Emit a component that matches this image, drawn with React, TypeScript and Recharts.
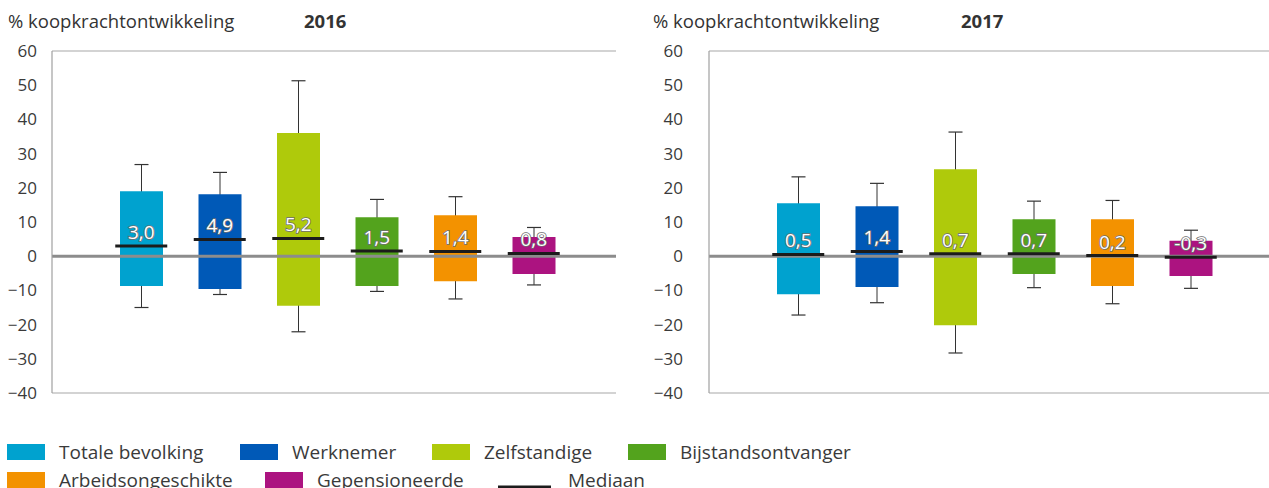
import React from 'react';
import { ComposedChart, Bar, Line, XAxis, YAxis, CartesianGrid, ReferenceLine, Cell } from 'recharts';

const categories = ['Totale bevolking', 'Werknemer', 'Zelfstandige', 'Bijstandsontvanger', 'Arbeidsongeschikte', 'Gepensioneerde'];
const colors = ['#00a2cf', '#0059b7', '#afca0b', '#53a31d', '#f39200', '#ac1380'];

const boxLow2016 = [-8.7, -9.6, -14.5, -8.7, -7.3, -5.2];
const boxHigh2016 = [19.0, 18.1, 36.0, 11.4, 12.0, 5.6];
const whiskerLow2016 = [-15.0, -11.2, -22.1, -10.3, -12.5, -8.4];
const whiskerHigh2016 = [26.8, 24.5, 51.3, 16.6, 17.4, 8.4];
const median2016 = [3.0, 4.9, 5.2, 1.5, 1.4, 0.8];

const boxLow2017 = [-11.1, -9.0, -20.2, -5.2, -8.7, -5.8];
const boxHigh2017 = [15.5, 14.6, 25.4, 10.8, 10.8, 4.5];
const whiskerLow2017 = [-17.2, -13.6, -28.3, -9.2, -13.9, -9.4];
const whiskerHigh2017 = [23.2, 21.3, 36.3, 16.1, 16.3, 7.6];
const median2017 = [0.5, 1.4, 0.7, 0.7, 0.2, -0.3];

const yTicks = [-40, -30, -20, -10, 0, 10, 20, 30, 40, 50, 60];
const yTitle = '% koopkrachtontwikkeling';
const legendItems = [
  { label: 'Totale bevolking', color: colors[0] },
  { label: 'Werknemer', color: colors[1] },
  { label: 'Zelfstandige', color: colors[2] },
  { label: 'Bijstandsontvanger', color: colors[3] },
  { label: 'Arbeidsongeschikte', color: colors[4] },
  { label: 'Gepensioneerde', color: colors[5] },
];
const medianLabel = 'Mediaan';

const FONT = '"Open Sans", sans-serif';

function build(lo: number[], hi: number[], wlo: number[], whi: number[], med: number[]) {
  return categories.map((c, i) => ({
    name: c,
    box: [lo[i], hi[i]],
    whisker: [wlo[i], whi[i]],
    median: med[i],
  }));
}

const data2016 = build(boxLow2016, boxHigh2016, whiskerLow2016, whiskerHigh2016, median2016);
const data2017 = build(boxLow2017, boxHigh2017, whiskerLow2017, whiskerHigh2017, median2017);

const fmt = (v: number) => (v < 0 ? '-' : '') + Math.abs(v).toFixed(1).replace('.', ',');
const tickFmt = (v: number) => (v < 0 ? '\u2212' + Math.abs(v) : String(v));

const WhiskerShape = (props: any) => {
  const { x, y, width, height } = props;
  if (x == null || y == null) return null;
  const top = Math.min(y, y + height);
  const bot = Math.max(y, y + height);
  const cx = x + width / 2;
  return (
    <g>
      <line x1={cx} x2={cx} y1={top} y2={bot} stroke="#333" strokeWidth={1} />
      <line x1={cx - 7} x2={cx + 7} y1={top} y2={top} stroke="#333" strokeWidth={1.2} />
      <line x1={cx - 7} x2={cx + 7} y1={bot} y2={bot} stroke="#333" strokeWidth={1.2} />
    </g>
  );
};

const MedianDot = (props: any) => {
  const { cx, cy, payload, index } = props;
  if (cx == null || cy == null) return <g key={index} />;
  return (
    <g key={index}>
      <line x1={cx - 26} x2={cx + 26} y1={cy} y2={cy} stroke="#1c1c1c" strokeWidth={3} />
      <text
        x={cx}
        y={cy - 7}
        textAnchor="middle"
        fontFamily={FONT}
        fontSize={19}
        fill="#ffffff"
        stroke="#6e6e6e"
        strokeWidth={1.6}
        style={{ paintOrder: 'stroke' }}
      >
        {fmt(payload.median)}
      </text>
    </g>
  );
};

function Panel({ data, yAxisWidth, tickMargin, width }: any) {
  return (
    <ComposedChart
      width={width}
      height={410}
      data={data}
      margin={{ top: 51, right: 24, bottom: 17, left: 0 }}
    >
      <CartesianGrid vertical={false} stroke="#a8a8a8" strokeWidth={1.2} />
      <XAxis xAxisId="a" dataKey="name" hide padding={{ left: 50, right: 43 }} />
      <XAxis xAxisId="b" dataKey="name" hide padding={{ left: 50, right: 43 }} />
      <YAxis
        yAxisId="y"
        domain={[-40, 60]}
        ticks={yTicks}
        width={yAxisWidth}
        tickLine={false}
        tickSize={0}
        tickMargin={tickMargin}
        axisLine={{ stroke: '#a0a0a0', strokeWidth: 1.2 }}
        tick={{ fill: '#3a3a3a', fontSize: 17, fontFamily: FONT }}
        tickFormatter={tickFmt}
        interval={0}
        allowDataOverflow
      />
      <YAxis
        yAxisId="r"
        orientation="right"
        domain={[-40, 60]}
        width={0}
        tick={false}
        tickLine={false}
        axisLine={{ stroke: '#a0a0a0', strokeWidth: 1.2 }}
      />
      <Bar
        xAxisId="b"
        yAxisId="y"
        dataKey="whisker"
        barSize={43}
        shape={WhiskerShape}
        isAnimationActive={false}
        legendType="none"
      />
      <ReferenceLine xAxisId="a" yAxisId="y" y={0} stroke="#8c8c8c" strokeWidth={3} />
      <Bar xAxisId="a" yAxisId="y" dataKey="box" barSize={43} isAnimationActive={false}>
        {data.map((_: any, i: number) => (
          <Cell key={i} fill={colors[i]} />
        ))}
      </Bar>
      <Line
        xAxisId="a"
        yAxisId="y"
        dataKey="median"
        stroke="none"
        dot={MedianDot}
        activeDot={false}
        isAnimationActive={false}
        legendType="none"
      />
    </ComposedChart>
  );
}

export default function App() {
  return (
    <div
      style={{
        position: 'absolute',
        left: 0,
        top: 0,
        width: 1269,
        height: 488,
        overflow: 'hidden',
        background: '#fff',
        fontFamily: FONT,
      }}
    >
      <div style={{ position: 'absolute', left: 0, top: 0 }}>
        <Panel data={data2016} yAxisWidth={52} tickMargin={15} width={640} />
      </div>
      <div style={{ position: 'absolute', left: 640, top: 0 }}>
        <Panel data={data2017} yAxisWidth={69} tickMargin={26} width={657} />
      </div>
      <svg
        width={1269}
        height={488}
        style={{ position: 'absolute', left: 0, top: 0, pointerEvents: 'none' }}
      >
        <text x={8} y={28} fontFamily={FONT} fontSize={18.5} fill="#333">{yTitle}</text>
        <text x={304} y={28} fontFamily={FONT} fontSize={18.5} fontWeight="bold" fill="#333">2016</text>
        <text x={653} y={28} fontFamily={FONT} fontSize={18.5} fill="#333">{yTitle}</text>
        <text x={961} y={28} fontFamily={FONT} fontSize={18.5} fontWeight="bold" fill="#333">2017</text>
        {[
          { i: 0, x: 7, y: 444 },
          { i: 1, x: 240, y: 444 },
          { i: 2, x: 432, y: 444 },
          { i: 3, x: 628, y: 444 },
          { i: 4, x: 7, y: 472 },
          { i: 5, x: 265, y: 472 },
        ].map(({ i, x, y }) => (
          <g key={i}>
            <rect x={x} y={y} width={38} height={16} fill={legendItems[i].color} />
            <text x={x + 52} y={y + 15} fontFamily={FONT} fontSize={19} fill="#3a3a3a">
              {legendItems[i].label}
            </text>
          </g>
        ))}
        <line x1={498} x2={551} y1={487} y2={487} stroke="#1c1c1c" strokeWidth={3} />
        <text x={568} y={487} fontFamily={FONT} fontSize={19} fill="#3a3a3a">{medianLabel}</text>
      </svg>
    </div>
  );
}
